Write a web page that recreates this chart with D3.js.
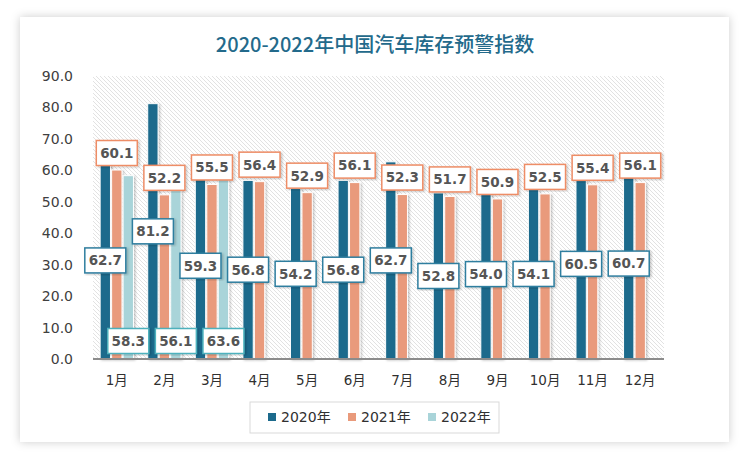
<!DOCTYPE html>
<html>
<head>
<meta charset="utf-8">
<script src="https://cdn.jsdelivr.net/npm/d3@7"></script>
<style>
	body { margin: 0; background: #ffffff; }
	svg { display: block; }
</style>
</head>
<body>
<svg id="chart" width="750" height="460"></svg>
<script>

var aMonths = ['1月', '2月', '3月', '4月', '5月', '6月', '7月', '8月', '9月', '10月', '11月', '12月'];
var aSeriesNames = ['2020年', '2021年', '2022年'];
var a2020 = [62.7, 81.2, 59.3, 56.8, 54.2, 56.8, 62.7, 52.8, 54.0, 54.1, 60.5, 60.7];
var a2021 = [60.1, 52.2, 55.5, 56.4, 52.9, 56.1, 52.3, 51.7, 50.9, 52.5, 55.4, 56.1];
var a2022 = [58.3, 56.1, 63.6];
var aTicks = [0, 10, 20, 30, 40, 50, 60, 70, 80, 90];

var aColors = ['#1c6a8c', '#e99a7b', '#a9d4d9'];
var aLabelStrokes = ['#2f7e9f', '#ee8d66', '#4db1bd'];

var sSvg = d3.select('#chart');
var sDefs = sSvg.append('defs');

// card shadow
var sCardShadow = sDefs.append('filter').attr('id', 'cardShadow')
	.attr('x', '-5%').attr('y', '-5%').attr('width', '110%').attr('height', '110%');
sCardShadow.append('feDropShadow')
	.attr('dx', 0).attr('dy', 0).attr('stdDeviation', 5)
	.attr('flood-color', '#000').attr('flood-opacity', 0.2);

var sBarShadow = sDefs.append('filter').attr('id', 'barShadow')
	.attr('x', '-50%').attr('y', '-10%').attr('width', '200%').attr('height', '120%');
sBarShadow.append('feDropShadow')
	.attr('dx', 1.5).attr('dy', 1).attr('stdDeviation', 1)
	.attr('flood-color', '#000').attr('flood-opacity', 0.22);

var sHatch = sDefs.append('pattern').attr('id', 'hatch')
	.attr('patternUnits', 'userSpaceOnUse')
	.attr('width', 4).attr('height', 4);
sHatch.append('rect').attr('width', 4).attr('height', 4).attr('fill', '#ffffff');
sHatch.append('path')
	.attr('d', 'M-1,-1 L5,5 M-1,3 L1,5 M3,-1 L5,1')
	.attr('stroke', '#e2e2e2')
	.attr('stroke-width', 1);

// card
sSvg.append('rect')
	.attr('x', 20).attr('y', 17)
	.attr('width', 709).attr('height', 425)
	.attr('fill', '#ffffff')
	.attr('filter', 'url(#cardShadow)');

// title
sSvg.append('text')
	.attr('x', 375).attr('y', 52)
	.attr('text-anchor', 'middle')
	.attr('font-family', '"Noto Sans CJK SC", sans-serif')
	.attr('font-size', 20)
	.attr('font-weight', 500)
	.attr('fill', '#236a8b')
	.text('2020-2022年中国汽车库存预警指数');

var nLeft = 93;
var nRight = 664;
var nTop = 76;
var nBottom = 359;

var scaleY = d3.scaleLinear()
	.domain([0, 90])
	.range([nBottom, nTop]);

var scaleX = d3.scaleBand()
	.domain(aMonths)
	.range([nLeft, nRight])
	.paddingInner(0.3)
	.paddingOuter(0.15);

var scaleSub = d3.scaleBand()
	.domain(aSeriesNames)
	.range([0, scaleX.bandwidth()])
	.paddingInner(0.1);

// hatched plot area
sSvg.append('rect')
	.attr('x', nLeft).attr('y', nTop)
	.attr('width', nRight - nLeft).attr('height', nBottom - nTop)
	.attr('fill', 'url(#hatch)');

// y axis
var axisY = d3.axisLeft(scaleY)
	.tickValues(aTicks)
	.tickSize(0)
	.tickPadding(20)
	.tickFormat(d3.format('.1f'));

var sAxisY = sSvg.append('g')
	.attr('transform', 'translate(' + nLeft + ',0)')
	.call(axisY);
sAxisY.select('.domain').remove();
sAxisY.selectAll('text')
	.attr('font-family', '"DejaVu Sans", sans-serif')
	.attr('font-size', 14)
	.attr('fill', '#404040');

// x axis
var axisX = d3.axisBottom(scaleX)
	.tickSize(0)
	.tickPadding(16);

var sAxisX = sSvg.append('g')
	.attr('transform', 'translate(0,' + nBottom + ')')
	.call(axisX);
sAxisX.select('.domain').remove();
sAxisX.selectAll('text')
	.attr('font-family', '"DejaVu Sans", "Noto Sans CJK SC", sans-serif')
	.attr('font-size', 13.5)
	.attr('fill', '#303030');

// bars
var aSeries = [a2020, a2021, a2022];
var aBars = [];
aSeries.forEach(function(aValues, nSeries)
{
	aValues.forEach(function(fValue, nIndex)
	{
		aBars.push({ series: nSeries, month: aMonths[nIndex], value: fValue });
	});
});

sSvg.append('g')
	.selectAll('rect')
	.data(aBars)
	.enter()
	.append('rect')
		.attr('x', function(d) { return scaleX(d.month) + scaleSub(aSeriesNames[d.series]); })
		.attr('y', function(d) { return scaleY(d.value); })
		.attr('width', scaleSub.bandwidth())
		.attr('height', function(d) { return nBottom - scaleY(d.value); })
		.attr('fill', function(d) { return aColors[d.series]; })
		.attr('stroke', '#ffffff')
		.attr('stroke-width', 1)
		.attr('filter', 'url(#barShadow)');

// baseline
sSvg.append('line')
	.attr('x1', nLeft).attr('x2', nRight)
	.attr('y1', nBottom).attr('y2', nBottom)
	.attr('stroke', '#8c8c8c')
	.attr('stroke-width', 2);

// data labels
function LabelCenterY(d)
{
	if (d.series == 0)
	{
		return (scaleY(d.value) + nBottom) / 2;
	}
	if (d.series == 1)
	{
		return scaleY(d.value) - 17;
	}
	return nBottom - 18;
}

var nBoxW = 41;
var nBoxH = 25;
var aLabelOrder = [2, 1, 0];
var aLabels = [];
aLabelOrder.forEach(function(nSeries)
{
	aBars.forEach(function(d) { if (d.series == nSeries) { aLabels.push(d); } });
});

var sLabels = sSvg.append('g')
	.selectAll('g')
	.data(aLabels)
	.enter()
	.append('g')
		.attr('transform', function(d)
		{
			var nX = scaleX(d.month) + scaleSub(aSeriesNames[d.series]) + scaleSub.bandwidth() / 2;
			return 'translate(' + nX + ',' + LabelCenterY(d) + ')';
		});

sLabels.append('rect')
	.attr('x', -nBoxW / 2).attr('y', -nBoxH / 2)
	.attr('width', nBoxW).attr('height', nBoxH)
	.attr('fill', '#ffffff')
	.attr('stroke', function(d) { return aLabelStrokes[d.series]; })
	.attr('stroke-width', 1.5)
	.attr('filter', 'url(#barShadow)');

sLabels.append('text')
	.attr('text-anchor', 'middle')
	.attr('dy', '0.36em')
	.attr('font-family', '"DejaVu Sans", sans-serif')
	.attr('font-size', 13.5)
	.attr('font-weight', 'bold')
	.attr('fill', '#555555')
	.text(function(d) { return d3.format('.1f')(d.value); });

// legend
var sLegend = sSvg.append('g');
sLegend.append('rect')
	.attr('x', 250).attr('y', 402)
	.attr('width', 249).attr('height', 31)
	.attr('fill', '#ffffff')
	.attr('stroke', '#d9d9d9')
	.attr('stroke-width', 1);

var aLegendX = [268, 348, 428];
aSeriesNames.forEach(function(strName, nSeries)
{
	sLegend.append('rect')
		.attr('x', aLegendX[nSeries]).attr('y', 413)
		.attr('width', 8).attr('height', 8)
		.attr('fill', aColors[nSeries]);
	sLegend.append('text')
		.attr('x', aLegendX[nSeries] + 13).attr('y', 422)
		.attr('font-family', '"DejaVu Sans", "Noto Sans CJK SC", sans-serif')
		.attr('font-size', 14)
		.attr('fill', '#303030')
		.text(strName);
});

</script>
</body>
</html>
